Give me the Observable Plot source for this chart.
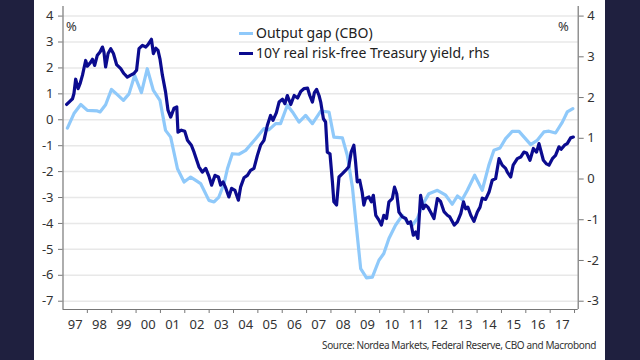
<!DOCTYPE html>
<html><head><meta charset="utf-8">
<script src="https://cdn.jsdelivr.net/npm/d3@7"></script>
<script src="https://cdn.jsdelivr.net/npm/@observablehq/plot@0.6"></script>
<style>
html,body{margin:0;padding:0;background:#1f203f;width:640px;height:360px;overflow:hidden;font-family:"Noto Sans",sans-serif;}
#panel{position:absolute;left:34px;top:0;width:571px;height:360px;background:#fff;}
#chart{position:absolute;left:0;top:0;}
.leg{position:absolute;left:205px;font-size:14px;color:#222;white-space:nowrap;line-height:16px;}
.leg i{display:inline-block;width:14px;height:3px;vertical-align:middle;margin-right:3px;position:relative;top:-1px;}
.pct{position:absolute;top:17px;font-size:13px;color:#333;}
#source{position:absolute;right:9px;top:338px;font-size:10px;color:#333;white-space:nowrap;letter-spacing:-0.38px;}
</style></head>
<body>
<div id="panel">
  <div id="chart"></div>
  <div class="leg" style="top:25px"><i style="background:#8fc9fa"></i>Output gap (CBO)</div>
  <div class="leg" style="top:45px"><i style="background:#0b0b8f"></i>10Y real risk-free Treasury yield, rhs</div>
  <div class="pct" style="left:32px">%</div>
  <div class="pct" style="left:524px">%</div>
  <div id="source">Source: Nordea Markets, Federal Reserve, CBO and Macrobond</div>
</div>
<script>
// Output gap (CBO), % (left axis)
const gapYears = [1997.18,1997.45,1997.73,1998.0,1998.41,1998.52,1998.75,1998.99,1999.23,1999.48,1999.71,1999.94,2000.22,2000.46,2000.71,2000.98,2001.21,2001.42,2001.70,2001.97,2002.24,2002.45,2002.65,2002.99,2003.20,2003.40,2003.61,2003.75,2003.95,2004.22,2004.50,2004.91,2005.25,2005.45,2005.73,2005.93,2006.21,2006.42,2006.69,2006.96,2007.24,2007.58,2007.92,2008.12,2008.47,2008.67,2008.88,2009.01,2009.22,2009.46,2009.70,2009.97,2010.17,2010.38,2010.65,2010.93,2011.13,2011.34,2011.55,2011.75,2012.02,2012.37,2012.71,2012.98,2013.19,2013.39,2013.60,2013.90,2014.21,2014.48,2014.69,2014.94,2015.17,2015.44,2015.72,2016.20,2016.47,2016.74,2016.95,2017.22,2017.50,2017.70,2017.93];
const gapValues = [-0.32,0.24,0.59,0.36,0.34,0.30,0.58,1.17,0.97,0.75,1.0,1.71,1.05,1.97,1.13,0.75,-0.41,-0.67,-1.89,-2.40,-2.21,-2.34,-2.46,-3.11,-3.17,-2.98,-2.46,-1.89,-1.31,-1.33,-1.18,-0.73,-0.34,-0.39,-0.15,-0.15,0.56,0.30,-0.09,0.17,-0.15,0.33,0.30,-0.67,-0.70,-1.37,-2.59,-3.81,-5.74,-6.10,-6.07,-5.42,-5.16,-4.58,-4.07,-3.69,-3.94,-4.07,-3.81,-3.30,-2.85,-2.72,-2.91,-3.26,-2.94,-3.08,-2.72,-2.14,-2.72,-1.76,-1.18,-1.09,-0.73,-0.45,-0.45,-0.96,-0.79,-0.47,-0.44,-0.51,-0.09,0.30,0.43];

// 10Y real risk-free Treasury yield, % (right axis)
const yieldYears = [1997.15,1997.25,1997.39,1997.45,1997.52,1997.62,1997.70,1997.80,1997.93,1998.00,1998.14,1998.21,1998.30,1998.41,1998.52,1998.62,1998.68,1998.75,1998.85,1998.96,1999.07,1999.20,1999.37,1999.50,1999.64,1999.78,1999.91,2000.02,2000.12,2000.26,2000.40,2000.49,2000.63,2000.71,2000.81,2000.90,2000.98,2001.08,2001.21,2001.31,2001.42,2001.56,2001.67,2001.72,2001.86,2002.00,2002.11,2002.27,2002.38,2002.58,2002.72,2002.86,2002.99,2003.10,2003.24,2003.38,2003.47,2003.57,2003.68,2003.81,2003.92,2004.06,2004.20,2004.29,2004.43,2004.57,2004.70,2004.84,2004.98,2005.11,2005.25,2005.39,2005.52,2005.62,2005.76,2005.87,2006.01,2006.11,2006.21,2006.35,2006.49,2006.63,2006.76,2006.90,2007.04,2007.13,2007.24,2007.32,2007.41,2007.51,2007.58,2007.69,2007.78,2007.85,2007.96,2008.06,2008.12,2008.23,2008.33,2008.47,2008.60,2008.73,2008.83,2008.94,2009.01,2009.08,2009.18,2009.28,2009.35,2009.42,2009.56,2009.66,2009.74,2009.84,2009.97,2010.07,2010.17,2010.28,2010.38,2010.52,2010.61,2010.70,2010.79,2010.93,2011.07,2011.16,2011.27,2011.38,2011.48,2011.57,2011.68,2011.79,2011.88,2011.98,2012.09,2012.23,2012.37,2012.50,2012.64,2012.78,2012.88,2013.06,2013.19,2013.33,2013.44,2013.53,2013.62,2013.74,2013.87,2014.01,2014.12,2014.21,2014.35,2014.49,2014.62,2014.76,2014.90,2015.03,2015.17,2015.24,2015.38,2015.48,2015.65,2015.79,2015.92,2016.03,2016.17,2016.31,2016.44,2016.54,2016.72,2016.85,2016.95,2017.09,2017.22,2017.36,2017.45,2017.59,2017.70,2017.84,2017.95];
const yieldValues = [1.83,1.89,1.97,2.10,2.45,2.22,2.34,2.55,2.91,2.77,2.87,2.94,2.79,3.04,3.12,3.24,3.12,2.75,3.08,3.20,3.08,2.81,2.71,2.59,2.50,2.55,2.59,2.67,3.20,3.28,3.24,3.30,3.43,3.08,3.21,3.16,2.95,2.55,2.14,1.69,1.52,1.74,1.77,1.15,1.20,1.17,0.95,0.83,0.66,0.30,0.17,0.26,0.07,-0.15,0.09,0.05,-0.15,-0.07,-0.22,-0.44,-0.23,-0.28,-0.52,-0.20,0.03,0.09,0.21,0.26,0.58,0.83,0.95,1.32,1.56,1.44,1.63,1.89,1.96,1.85,2.05,1.83,2.05,1.99,2.15,2.22,2.23,2.05,1.89,2.12,2.20,2.05,1.89,1.48,1.40,0.66,0.62,-0.07,-0.56,-0.64,0.05,0.13,0.21,0.30,0.66,0.83,0.42,-0.07,-0.03,-0.32,-0.64,-0.48,-0.44,-0.56,-0.40,-0.89,-1.01,-1.13,-0.89,-0.97,-0.56,-0.48,-0.20,-0.36,-0.81,-0.93,-0.97,-1.09,-1.05,-1.38,-1.30,-1.46,-0.40,-0.73,-0.64,-0.69,-0.81,-0.97,-0.48,-0.55,-0.80,-0.89,-0.93,-1.13,-1.05,-0.85,-0.56,-0.73,-0.69,-0.89,-1.04,-0.81,-0.69,-0.47,-0.50,-0.32,-0.03,0.01,0.50,0.34,0.26,0.17,0.05,0.34,0.50,0.54,0.66,0.64,0.46,0.75,0.66,0.87,0.46,0.37,0.34,0.50,0.58,0.79,0.73,0.83,0.87,1.01,1.03];

const leftTicks = [-7,-6,-5,-4,-3,-2,-1,0,1,2,3,4];
const rightTicks = [-3,-2,-1,0,1,2,3,4];
const yearLabels = ["97","98","99","00","01","02","03","04","05","06","07","08","09","10","11","12","13","14","15","16","17"];
const firstYear = 1997;

const yDomain = [-7.32, 4.37];
const xDomain = [1997, 2018.15];
const toLeft = r => 4 + (r - 4) * 11 / 7;
const toRight = l => 4 + (l - 4) * 7 / 11;

const gap = gapYears.map((x, i) => ({x, y: gapValues[i]}));
const yld = yieldYears.map((x, i) => ({x, y: toLeft(yieldValues[i])}));
const boundaries = yearLabels.slice(1).map((_, i) => firstYear + i + 1).concat([firstYear + yearLabels.length]);
const mids = yearLabels.map((_, i) => firstYear + i + 0.5);

const chart = Plot.plot({
  width: 571, height: 335,
  marginLeft: 28.5, marginRight: 27.3, marginTop: 6, marginBottom: 26,
  x: {domain: xDomain},
  y: {domain: yDomain},
  style: {fontFamily: "Noto Sans", fontSize: "13px", color: "#333", background: "transparent"},
  marks: [
    Plot.ruleY(leftTicks, {stroke: "#e8e8e8", strokeWidth: 1.5}),
    Plot.axisY({anchor: "left", ticks: leftTicks, tickSize: 4.5, tickPadding: 5, label: null, stroke: "#777", fill: "#333", tickFormat: d => String(Math.round(d))}),
    Plot.axisY({anchor: "right", ticks: rightTicks.map(toLeft), tickSize: 5, tickPadding: 4, label: null, stroke: "#777", fill: "#333", tickFormat: d => String(Math.round(toRight(d)))}),
    Plot.axisX({ticks: boundaries, tickSize: 4, tickFormat: () => "", label: null, stroke: "#777"}),
    Plot.axisX({ticks: mids, tickSize: 0, tickPadding: 10, label: null, fill: "#333", tickFormat: d => yearLabels[Math.floor(d) - firstYear]}),
    Plot.ruleX([xDomain[0], xDomain[1]], {stroke: "#777", strokeWidth: 1.2}),
    Plot.ruleY([yDomain[0]], {stroke: "#777", strokeWidth: 1.2}),
    Plot.line(gap, {x: "x", y: "y", stroke: "#8fc9fa", strokeWidth: 3.2, curve: "linear"}),
    Plot.line(yld, {x: "x", y: "y", stroke: "#0b0b8f", strokeWidth: 3.2, curve: "linear"})
  ]
});
document.getElementById("chart").appendChild(chart);
</script>
</body></html>
